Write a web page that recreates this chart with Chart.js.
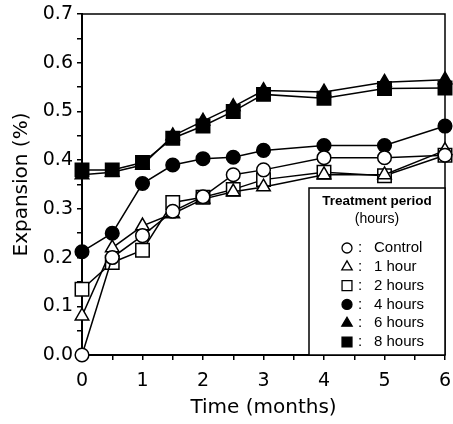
<!DOCTYPE html>
<html>
<head>
<meta charset="utf-8">
<script src="https://cdn.jsdelivr.net/npm/chart.js@4.4.1/dist/chart.umd.min.js"></script>
<style>
  html, body { margin: 0; padding: 0; background: #fff; }
</style>
</head>
<body>
<canvas id="expansionChart" width="453" height="424"></canvas>
<script>
//time points (months)
const months = [0, 0.5, 1, 1.5, 2, 2.5, 3, 4, 5, 6];

//expansion (%) for each treatment period
const control    = [0.00, 0.20, 0.245, 0.295, 0.325, 0.37, 0.38, 0.405, 0.405, 0.41];
const oneHour    = [0.08, 0.22, 0.265, 0.29, 0.32, 0.335, 0.345, 0.37, 0.37, 0.42];
const twoHours   = [0.135, 0.19, 0.215, 0.313, 0.324, 0.34, 0.36, 0.375, 0.368, 0.41];
const fourHours  = [0.212, 0.25, 0.352, 0.39, 0.403, 0.406, 0.42, 0.43, 0.43, 0.47];
const sixHours   = [0.37, 0.375, 0.39, 0.45, 0.48, 0.51, 0.543, 0.54, 0.56, 0.565];
const eightHours = [0.38, 0.38, 0.395, 0.445, 0.47, 0.5, 0.535, 0.527, 0.547, 0.548];

const seriesLabels = ['Control', '1 hour', '2 hours', '4 hours', '6 hours', '8 hours'];
const legendTitle = ['Treatment period', '(hours)'];
const yTicks = [0.0, 0.1, 0.2, 0.3, 0.4, 0.5, 0.6, 0.7]; //labelled y ticks
const xTicks = [0, 1, 2, 3, 4, 5, 6]; //labelled x ticks

//marker look per series
const markers = [
    {style: 'circle', radius: 6.8, fill: '#fff'},
    {style: 'triangle', radius: 7.8, fill: '#fff'},
    {style: 'rect', radius: 9.5, fill: '#fff'},
    {style: 'circle', radius: 6.8, fill: '#000'},
    {style: 'triangle', radius: 7.8, fill: '#000'},
    {style: 'rect', radius: 9.5, fill: '#000'}
];
const legendRadius = {circle: 5, triangle: 6, rect: 7};

const allSeries = [control, oneHour, twoHours, fourHours, sixHours, eightHours];

const datasets = allSeries.map((values, i) => ({
    label: seriesLabels[i],
    data: values.map((v, j) => ({x: months[j], y: v})),
    borderColor: '#000',
    borderWidth: 1.5,
    backgroundColor: markers[i].fill,
    pointStyle: markers[i].style,
    pointRadius: markers[i].radius,
    pointBorderColor: '#000',
    pointBackgroundColor: markers[i].fill,
    pointBorderWidth: 1.5,
    tension: 0,
    clip: false,
    order: i === 5 ? -1 : 0 //8 hour squares sit on top of the 6 hour triangles
}));

//draws top + right border of the plot box
const frameBox = {
    id: 'frameBox',
    beforeDatasetsDraw(chart) {
        const {ctx, chartArea: a} = chart;
        ctx.save();
        ctx.strokeStyle = '#000';
        ctx.lineWidth = 1.5;
        ctx.beginPath();
        ctx.moveTo(a.left, a.top);
        ctx.lineTo(a.right, a.top);
        ctx.lineTo(a.right, a.bottom);
        ctx.stroke();
        ctx.restore();
    }
};

//legend box inside bottom right corner
const boxLegend = {
    id: 'boxLegend',
    afterDatasetsDraw(chart) {
        const {ctx, chartArea: a} = chart;
        const w = 136, h = 167;
        const left = a.right - w, top = a.bottom - h;
        ctx.save();
        ctx.fillStyle = '#fff';
        ctx.fillRect(left, top, w, h);
        ctx.strokeStyle = '#000';
        ctx.lineWidth = 1.5;
        ctx.strokeRect(left, top, w, h);

        ctx.fillStyle = '#000';
        ctx.textAlign = 'center';
        ctx.textBaseline = 'middle';
        ctx.font = 'bold 13.5px "Liberation Sans", Arial, sans-serif';
        ctx.fillText(legendTitle[0], left + w / 2, top + 13);
        ctx.font = '14px "Liberation Sans", Arial, sans-serif';
        ctx.fillText(legendTitle[1], left + w / 2, top + 31);

        ctx.textAlign = 'left';
        ctx.font = '15px "Liberation Sans", Arial, sans-serif';
        seriesLabels.forEach((label, i) => {
            const y = top + 60 + i * 18.8;
            const sx = left + 38;
            ctx.fillStyle = markers[i].fill;
            ctx.strokeStyle = '#000';
            ctx.lineWidth = 1.3;
            Chart.helpers.drawPoint(ctx, {
                pointStyle: markers[i].style,
                radius: legendRadius[markers[i].style],
                rotation: 0,
                borderWidth: 1.3
            }, sx, y);
            ctx.fillStyle = '#000';
            ctx.fillText(':', left + 49, y);
            ctx.fillText(label, left + 65, y);
        });
        ctx.restore();
    }
};

//pin the scale sizes so the plot box lands where it is in the figure
function fitX(scale) {
    scale.height = 69;
    scale.paddingLeft = 0;
    scale.paddingRight = 0;
}
function fitY(scale) {
    scale.width = 82;
    scale.paddingTop = 0;
    scale.paddingBottom = 0;
}

const chartCtx = document.getElementById('expansionChart');
const expansionChart = new Chart(chartCtx, {
    type: 'line',
    data: {datasets: datasets},
    options: {
        responsive: false,
        animation: false,
        layout: {
            autoPadding: false,
            padding: {left: 0, right: 8, top: 14, bottom: 0}
        },
        scales: {
            x: {
                type: 'linear',
                min: 0,
                max: 6,
                afterFit: fitX,
                ticks: {
                    stepSize: 0.5,
                    autoSkip: false,
                    maxRotation: 0,
                    minRotation: 0,
                    color: '#000',
                    padding: 10,
                    font: {family: '"DejaVu Sans", sans-serif', size: 19},
                    callback: v => xTicks.includes(v) ? String(v) : '' //only whole months get a label
                },
                grid: {drawOnChartArea: false, drawTicks: true, tickLength: 5, color: '#000', lineWidth: 1.5},
                border: {color: '#000', width: 2},
                title: {
                    display: true,
                    text: 'Time (months)',
                    color: '#000',
                    padding: {top: 0, bottom: 4},
                    font: {family: '"DejaVu Sans", sans-serif', size: 20}
                }
            },
            y: {
                min: 0,
                max: 0.7,
                afterFit: fitY,
                ticks: {
                    stepSize: 0.05,
                    autoSkip: false,
                    color: '#000',
                    padding: 4,
                    font: {family: '"DejaVu Sans", sans-serif', size: 19},
                    callback: v => {
                        const hit = yTicks.find(t => Math.abs(t - v) < 1e-6);
                        return hit === undefined ? '' : hit.toFixed(1);
                    }
                },
                grid: {drawOnChartArea: false, drawTicks: true, tickLength: 5, color: '#000', lineWidth: 1.5},
                border: {color: '#000', width: 2},
                title: {
                    display: true,
                    text: 'Expansion (%)',
                    color: '#000',
                    padding: {top: 10, bottom: 0},
                    font: {family: '"DejaVu Sans", sans-serif', size: 20}
                }
            }
        },
        plugins: {
            legend: {display: false},
            tooltip: {enabled: false}
        }
    },
    plugins: [frameBox, boxLegend]
});
</script>
</body>
</html>
